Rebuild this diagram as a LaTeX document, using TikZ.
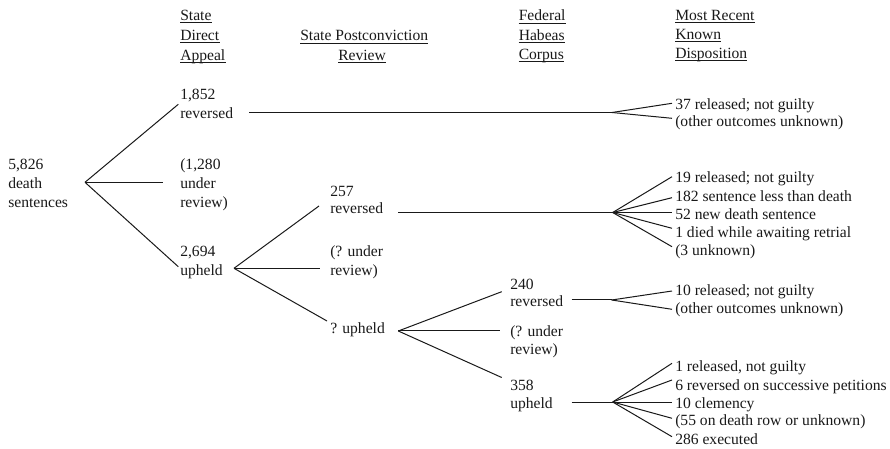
\documentclass[tikz,border=0pt]{standalone}
\usepackage{fontspec}
\setmainfont{Liberation Serif}
\usetikzlibrary{calc}
\begin{document}
\begin{tikzpicture}[x=0.75pt,y=-0.75pt,
  txt/.style={inner sep=0pt, anchor=base west, text=black!90, font=\fontsize{11.7pt}{14pt}\selectfont},
  conn/.style={line width=0.75pt, draw=black!90},
  ulline/.style={line width=0.6pt, draw=black!90}]
\useasboundingbox (0,0) rectangle (890,449);

% headers
\node[txt] (hA1) at (180,20.5) {State};
\node[txt] (hA2) at (180,40.5) {Direct};
\node[txt] (hA3) at (180,60.5) {Appeal};
\node[txt] (hB1) at (300,41) {State Postconviction};
\node[txt] (hB2) at (338,60.3) {Review};
\node[txt] (hC1) at (518.5,21) {Federal};
\node[txt] (hC2) at (518.5,40.5) {Habeas};
\node[txt] (hC3) at (518.5,59.7) {Corpus};
\node[txt] (hD1) at (675,20.5) {Most Recent};
\node[txt] (hD2) at (675,39.7) {Known};
\node[txt] (hD3) at (675,58.7) {Disposition};
\foreach \n in {hA1,hA2,hA3,hB1,hB2,hC1,hC2,hC3,hD1,hD2,hD3}
  \draw[ulline] ($(\n.base west)+(0,2.2)$) -- ($(\n.base east)+(0,2.2)$);

% root
\node[txt] (r1) at (8,170) {5,826};
\node[txt] (r2) at (8,189) {death};
\node[txt] (r3) at (8,208) {sentences};
\coordinate (fa) at ($(r2.base west)+(77,-6.7)$);

% state direct appeal
\node[txt] (a1) at (180,100) {1,852};
\node[txt] (a2) at (180,119) {reversed};
\node[txt] (b1) at (180,170) {(1,280};
\node[txt] (b2) at (180,189) {under};
\node[txt] (b3) at (180,208) {review)};
\node[txt] (c1) at (180,257) {2,694};
\node[txt] (c2) at (180,276) {upheld};
\draw[conn] (fa) -- ($(a1.base west)+(-1.7,4.3)$);
\draw[conn] (fa) -- ($(b2.base west)+(-17.3,-6.7)$);
\draw[conn] (fa) -- ($(c2.base west)+(-1.7,-9.3)$);

% state postconviction
\node[txt] (e1) at (330,197) {257};
\node[txt] (e2) at (330,214) {reversed};
\node[txt] (f1) at (330,257) {(? under};
\node[txt] (f2) at (330,276) {review)};
\node[txt] (g1) at (330,333.5) {? upheld};
\coordinate (fb) at ($(c2.base west)+(54,-7.7)$);
\draw[conn] (fb) -- ($(e2.base west)+(-11,-8)$);
\draw[conn] (fb) -- ($(f2.base west)+(-10,-7.7)$);
\draw[conn] (fb) -- ($(g1.base west)+(-3,-12.5)$);

% federal habeas
\node[txt] (h1) at (510,290) {240};
\node[txt] (h2) at (510,307) {reversed};
\node[txt] (i1) at (510,336) {(? under};
\node[txt] (i2) at (510,354) {review)};
\node[txt] (j1) at (510,390.5) {358};
\node[txt] (j2) at (510,408.5) {upheld};
\coordinate (fc) at ($(g1.base west)+(68.3,-2.5)$);
\draw[conn] (fc) -- ($(h1.base west)+(-8.3,1.7)$);
\draw[conn] (fc) -- ($(i1.base west)+(-10,-5)$);
\draw[conn] (fc) -- ($(j1.base west)+(-8.3,-13)$);

% dispositions 1
\node[txt] (d1) at (675,109.5) {37 released; not guilty};
\node[txt] (d2) at (675,127) {(other outcomes unknown)};
\coordinate (fd) at (612,112.5);
\draw[conn] ($(a2.base west)+(69,-6.5)$) -- (fd);
\draw[conn] (fd) -- ($(d1.base west)+(-3,-6.2)$);
\draw[conn] (fd) -- ($(d2.base west)+(-3,-8.7)$);

% dispositions 2
\node[txt] (k1) at (675,183) {19 released; not guilty};
\node[txt] (k2) at (675,201.3) {182 sentence less than death};
\node[txt] (k3) at (675,219.5) {52 new death sentence};
\node[txt] (k4) at (675,237.8) {1 died while awaiting retrial};
\node[txt] (k5) at (675,256) {(3 unknown)};
\coordinate (fe) at (612.7,212.5);
\draw[conn] ($(e2.base west)+(68.3,-1.5)$) -- (fe);
\draw[conn] (fe) -- ($(k1.base west)+(-3,-6.3)$);
\draw[conn] (fe) -- ($(k2.base west)+(-3,-3.6)$);
\draw[conn] (fe) -- ($(k3.base west)+(-3,-7)$);
\draw[conn] (fe) -- ($(k4.base west)+(-3,-9.5)$);
\draw[conn] (fe) -- ($(k5.base west)+(-3,-9.3)$);

% dispositions 3
\node[txt] (m1) at (675,296) {10 released; not guilty};
\node[txt] (m2) at (675,314) {(other outcomes unknown)};
\coordinate (ff) at (611.7,300);
\draw[conn] ($(h2.base west)+(61.7,-7)$) -- (ff);
\draw[conn] (ff) -- ($(m1.base west)+(-3,-5)$);
\draw[conn] (ff) -- ($(m2.base west)+(-3,-4.7)$);

% dispositions 4
\node[txt] (n1) at (675,372) {1 released, not guilty};
\node[txt] (n2) at (675,390) {6 reversed on successive petitions};
\node[txt] (n3) at (675,408) {10 clemency};
\node[txt] (n4) at (675,426) {(55 on death row or unknown)};
\node[txt] (n5) at (675,444) {286 executed};
\coordinate (fg) at (612.7,402);
\draw[conn] ($(j2.base west)+(61.7,-6.5)$) -- (fg);
\draw[conn] (fg) -- ($(n1.base west)+(-3,-8.7)$);
\draw[conn] (fg) -- ($(n2.base west)+(-3,-10)$);
\draw[conn] (fg) -- ($(n3.base west)+(-3,-6)$);
\draw[conn] (fg) -- ($(n4.base west)+(-3,-7.7)$);
\draw[conn] (fg) -- ($(n5.base west)+(-3,-7.3)$);
\end{tikzpicture}
\end{document}
